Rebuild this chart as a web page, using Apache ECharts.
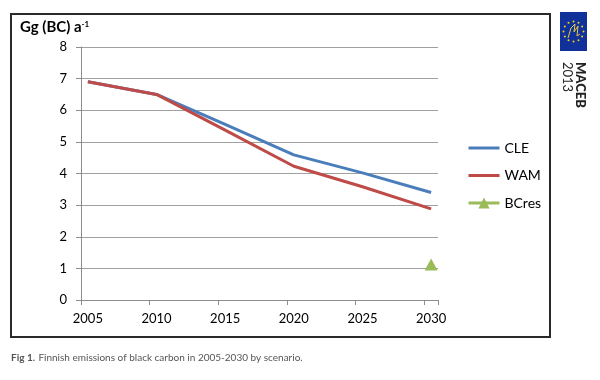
<!DOCTYPE html>
<html>
<head>
<meta charset="utf-8">
<script src="https://cdn.jsdelivr.net/npm/echarts@6/dist/echarts.min.js"></script>
<style>
html,body{margin:0;padding:0;background:#fff;}
#chart{width:600px;height:380px;}
</style>
</head>
<body>
<div id="chart"></div>
<script>
// ---- data ----
var categories = ['2005','2006','2007','2008','2009','2010','2011','2012','2013','2014','2015','2016','2017','2018','2019','2020','2021','2022','2023','2024','2025','2026','2027','2028','2029','2030'];
var xTickLabels = ['2005','2010','2015','2020','2025','2030'];
var cleYears = ['2005','2010','2015','2020','2025','2030'];
var cleValues = [6.9, 6.5, 5.55, 4.59, 4.02, 3.40];
var wamYears = ['2005','2010','2015','2020','2025','2030'];
var wamValues = [6.9, 6.5, 5.37, 4.23, 3.58, 2.88];
var bcresYears = ['2030'];
var bcresValues = [1.12];
var yTicks = [0,1,2,3,4,5,6,7,8];
var seriesNames = ['CLE','WAM','BCres'];

function pairs(xs, ys){ return xs.map(function(x,i){ return [x, ys[i]]; }); }

var FONT = 'Lato';
var chart = echarts.init(document.getElementById('chart'), null, {renderer:'canvas'});

// EU flag stars (decoration)
var stars = [];
for (var k = 0; k < 12; k++) {
  var a = k * Math.PI * 2 / 12;
  stars.push({type:'circle', shape:{cx:573.5 + 10*Math.cos(a), cy:31.5 + 10*Math.sin(a), r:1}, style:{fill:'#f5d21a'}, silent:true});
}

var lineIcon = 'path://M0,0L31,0L31,3L0,3Z';

var option = {
  animation:false,
  backgroundColor:'#fff',
  grid:{left:81, right:162, top:47, bottom:80, containLabel:false},
  legend:{
    orient:'vertical', left:462, top:136,
    itemWidth:31, itemHeight:14, itemGap:13.5,
    data:[
      {name:seriesNames[0], icon:lineIcon},
      {name:seriesNames[1], icon:lineIcon},
      {name:seriesNames[2], lineStyle:{width:3, color:'#9bbb59'}}
    ],
    textStyle:{fontFamily:FONT, fontSize:14, color:'#000'}
  },
  xAxis:{
    type:'category', data:categories, boundaryGap:true,
    axisLine:{show:true, lineStyle:{color:'#8c8c8c', width:1}},
    axisTick:{show:true, interval:4, length:5, lineStyle:{color:'#8c8c8c'}},
    axisLabel:{
      interval:function(idx, val){ return xTickLabels.indexOf(val) >= 0; },
      margin:12, fontFamily:FONT, fontSize:13, color:'#000'
    },
    splitLine:{show:false}
  },
  yAxis:{
    type:'value', min:yTicks[0], max:yTicks[yTicks.length-1], interval:1,
    axisLine:{show:true, lineStyle:{color:'#8c8c8c', width:1}},
    axisTick:{show:true, length:5, lineStyle:{color:'#8c8c8c'}},
    axisLabel:{margin:14, fontFamily:FONT, fontSize:13, color:'#000'},
    splitLine:{show:true, lineStyle:{color:'#a0a0a0', width:1}}
  },
  series:[
    {name:seriesNames[0], type:'line', data:pairs(cleYears, cleValues), symbol:'none', connectNulls:true,
     lineStyle:{color:'#4a7ebb', width:3}, itemStyle:{color:'#4a7ebb'}, z:2},
    {name:seriesNames[1], type:'line', data:pairs(wamYears, wamValues), symbol:'none', connectNulls:true,
     lineStyle:{color:'#be4b48', width:3}, itemStyle:{color:'#be4b48'}, z:3},
    {name:seriesNames[2], type:'line', data:pairs(bcresYears, bcresValues), symbol:'triangle', symbolSize:[13,12],
     lineStyle:{color:'#9bbb59', width:3}, itemStyle:{color:'#9bbb59'}, z:4}
  ],
  graphic:[
    {type:'rect', shape:{x:11, y:14, width:539, height:323}, style:{fill:'none', stroke:'#2a2a2a', lineWidth:2}, silent:true, z:-1},
    {type:'text', left:20, top:20, style:{
      text:'{m|Gg (BC) a}{s|-1}',
      rich:{
        m:{fontFamily:FONT, fontSize:15, fontWeight:'bold', fill:'#000'},
        s:{fontFamily:FONT, fontSize:8, fontWeight:'bold', fill:'#000', verticalAlign:'top', padding:[0,0,6,0]}
      }
    }},
    {type:'text', left:11, top:352, style:{
      text:'{b|Fig 1.} {n|Finnish emissions of black carbon in 2005-2030 by scenario.}',
      rich:{
        b:{fontFamily:FONT, fontSize:10, fontWeight:'bold', fill:'#555'},
        n:{fontFamily:FONT, fontSize:10, fill:'#555'}
      }
    }},
    {type:'rect', shape:{x:560, y:12, width:27, height:39}, style:{fill:'#10309a'}, silent:true},
    {type:'polyline', shape:{points:[[568,38],[571,28],[575,24],[574,32],[578,26],[577,36],[580,34]]}, style:{stroke:'#e8c840', lineWidth:1, fill:'none'}, silent:true},
    {type:'text', x:580.5, y:62, rotation:-Math.PI/2, style:{text:'MACEB', fontFamily:FONT, fontSize:13, fontWeight:900, fill:'#222', textAlign:'left', textVerticalAlign:'middle'}},
    {type:'text', x:567, y:62, rotation:-Math.PI/2, style:{text:'2013', fontFamily:FONT, fontSize:13, fill:'#222', textAlign:'left', textVerticalAlign:'middle'}}
  ].concat(stars)
};
chart.setOption(option);
</script>
</body>
</html>
